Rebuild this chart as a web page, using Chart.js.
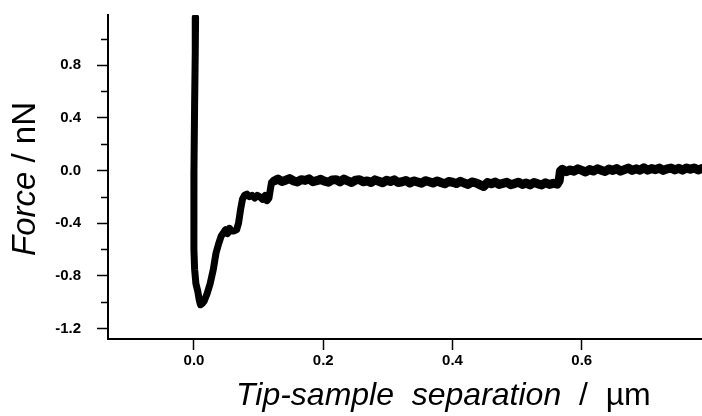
<!DOCTYPE html>
<html>
<head>
<meta charset="utf-8">
<script src="https://cdn.jsdelivr.net/npm/chart.js@4"></script>
<style>
  html, body { margin: 0; padding: 0; background: #fff; }
  canvas { display: block; }
</style>
</head>
<body>
<canvas id="forceCurve" width="702" height="416"></canvas>
<script>
// tip-sample separation (µm) and force (nN) along the retract curve
const separation = [
  0.0025, 0.002, 0.001, 0.0, -0.0002, 0.0, 0.001, 0.003, 0.006, 0.008,
  0.010, 0.013, 0.016, 0.020, 0.025, 0.030, 0.034, 0.038, 0.042, 0.046,
  0.049, 0.052, 0.055, 0.058, 0.062, 0.066, 0.069, 0.072, 0.075, 0.078,
  0.082, 0.086, 0.090, 0.094, 0.098, 0.102, 0.106, 0.110, 0.113, 0.116,
  0.118, 0.120, 0.124,
  0.130, 0.136, 0.142, 0.148, 0.154, 0.160, 0.166, 0.172, 0.178, 0.184,
  0.190, 0.196, 0.202, 0.208, 0.214, 0.220, 0.226, 0.232, 0.238, 0.244,
  0.250, 0.256, 0.262, 0.268, 0.274, 0.280, 0.286, 0.292, 0.298, 0.304,
  0.310, 0.316, 0.322, 0.328, 0.334, 0.340, 0.346, 0.352, 0.358, 0.364,
  0.370, 0.376, 0.382, 0.388, 0.394, 0.400, 0.406, 0.412, 0.418, 0.424,
  0.430, 0.436, 0.442, 0.448, 0.454, 0.460, 0.466, 0.472, 0.478, 0.484,
  0.490, 0.496, 0.502, 0.508, 0.514, 0.520, 0.526, 0.532, 0.538, 0.544,
  0.550, 0.556, 0.562,
  0.565, 0.567, 0.570, 0.576, 0.582, 0.588, 0.594, 0.600, 0.606, 0.612,
  0.618, 0.624, 0.630, 0.636, 0.642, 0.648, 0.654, 0.660, 0.666, 0.672,
  0.678, 0.684, 0.690, 0.696, 0.702, 0.708, 0.714, 0.720, 0.726, 0.732,
  0.738, 0.744, 0.750, 0.756, 0.762, 0.768, 0.774, 0.780, 0.786
]
const force = [
  1.16, 0.9, 0.5, 0.0, -0.4, -0.6, -0.75, -0.86, -0.92, -0.98,
  -1.02, -1.01, -0.99, -0.94, -0.86, -0.75, -0.63, -0.56, -0.50, -0.47,
  -0.45, -0.48, -0.44, -0.46, -0.46, -0.45, -0.40, -0.30, -0.22, -0.19,
  -0.18, -0.20, -0.19, -0.21, -0.19, -0.20, -0.22, -0.19, -0.23, -0.21,
  -0.15, -0.09, -0.08,
  -0.066, -0.084, -0.074, -0.062, -0.080, -0.088, -0.070, -0.076, -0.064, -0.086,
  -0.078, -0.068, -0.082, -0.090, -0.072, -0.070, -0.088, -0.066, -0.080, -0.092,
  -0.074, -0.070, -0.086, -0.080, -0.092, -0.072, -0.082, -0.094, -0.074, -0.084,
  -0.072, -0.092, -0.086, -0.076, -0.096, -0.080, -0.088, -0.098, -0.078, -0.086,
  -0.096, -0.080, -0.092, -0.102, -0.084, -0.090, -0.100, -0.082, -0.096, -0.106,
  -0.088, -0.094, -0.108, -0.122, -0.092, -0.102, -0.088, -0.106, -0.098, -0.090,
  -0.108, -0.100, -0.090, -0.106, -0.096, -0.110, -0.092, -0.102, -0.110, -0.094,
  -0.106, -0.098, -0.104,
  -0.080, -0.004, 0.008, -0.010, 0.004, -0.006, 0.012, 0.000, -0.012, 0.006,
  -0.004, 0.012, 0.002, -0.008, 0.010, 0.000, 0.014, -0.006, 0.006, 0.018,
  0.000, 0.012, 0.002, 0.020, 0.002, 0.014, 0.006, 0.018, 0.000, 0.012,
  0.018, 0.004, 0.016, 0.002, 0.018, 0.008, 0.018, 0.004, 0.014
]

const xTicks = [0.0, 0.2, 0.4, 0.6]
const yTicks = [-1.2, -0.8, -0.4, 0.0, 0.4, 0.8]
const yMinorTicks = [-1.0, -0.6, -0.2, 0.2, 0.6, 1.0]

const points = separation.map((x, i) => ({ x: x, y: force[i] }))

const FONT = '"Liberation Sans", Arial, sans-serif'

// short unlabeled ticks between the labeled ones, plus the axis titles
const extrasPlugin = {
  id: 'extras',
  afterDraw(chart) {
    const ctx = chart.ctx
    const yScale = chart.scales.y
    const left = chart.chartArea.left
    ctx.save()
    ctx.strokeStyle = '#000'
    ctx.lineWidth = 1.5
    yMinorTicks.forEach(v => {
      const py = Math.round(yScale.getPixelForValue(v)) + 0.5
      ctx.beginPath()
      ctx.moveTo(left - 7, py)
      ctx.lineTo(left, py)
      ctx.stroke()
    })

    ctx.fillStyle = '#000'
    ctx.textBaseline = 'alphabetic'
    ctx.textAlign = 'left'

    // x title: italic quantity, upright unit
    let xa = 236
    const xb = 405
    ctx.font = 'italic 32px ' + FONT
    const q1 = 'Tip-sample  separation'
    ctx.fillText(q1, xa, xb)
    xa += ctx.measureText(q1).width
    ctx.font = '32px ' + FONT
    ctx.fillText('  /  µm', xa, xb)

    // y title, rotated
    ctx.translate(35, 256)
    ctx.rotate(-Math.PI / 2)
    ctx.font = 'italic 33px ' + FONT
    const q2 = 'Force'
    ctx.fillText(q2, 0, 0)
    const w2 = ctx.measureText(q2).width
    ctx.font = '33px ' + FONT
    ctx.fillText(' / nN', w2, 0)
    ctx.restore()
  }
}

new Chart(document.getElementById('forceCurve').getContext('2d'), {
  type: 'scatter',
  data: {
    datasets: [{
      data: points,
      showLine: true,
      borderColor: '#000',
      backgroundColor: '#000',
      borderWidth: 7,
      borderCapStyle: 'round',
      borderJoinStyle: 'round',
      pointRadius: 0,
      tension: 0,
      // the noisy baseline reads a little heavier than the approach spike
      segment: {
        borderWidth: ctx => (ctx.p0.parsed.x > 0.12 ? 9 : 7)
      }
    }]
  },
  options: {
    responsive: false,
    animation: false,
    devicePixelRatio: 1,
    layout: { padding: { top: 15, right: 0, left: 0, bottom: 0 } },
    plugins: {
      legend: { display: false },
      tooltip: { enabled: false }
    },
    scales: {
      x: {
        type: 'linear',
        position: 'bottom',
        min: -0.133,
        max: 0.786,
        afterBuildTicks: axis => { axis.ticks = xTicks.map(v => ({ value: v })) },
        afterFit: scale => { scale.height = 77 },
        grid: { drawOnChartArea: false, tickLength: 11, tickColor: '#000', tickWidth: 1.5 },
        border: { color: '#000', width: 2 },
        ticks: {
          color: '#000',
          font: { family: FONT, size: 15, weight: 'bold' },
          padding: 2,
          maxRotation: 0,
          autoSkip: false,
          callback: v => Number(v).toFixed(1)
        }
      },
      y: {
        type: 'linear',
        min: -1.28,
        max: 1.18,
        afterBuildTicks: axis => { axis.ticks = yTicks.map(v => ({ value: v })) },
        afterFit: scale => {
          scale.width = 108
          scale.paddingTop = 0
          scale.paddingBottom = 0
        },
        grid: { drawOnChartArea: false, tickLength: 11, tickColor: '#000', tickWidth: 1.5 },
        border: { color: '#000', width: 2 },
        ticks: {
          color: '#000',
          font: { family: FONT, size: 15, weight: 'bold' },
          padding: 16,
          autoSkip: false,
          callback: v => Number(v).toFixed(1)
        }
      }
    }
  },
  plugins: [extrasPlugin]
})
</script>
</body>
</html>
